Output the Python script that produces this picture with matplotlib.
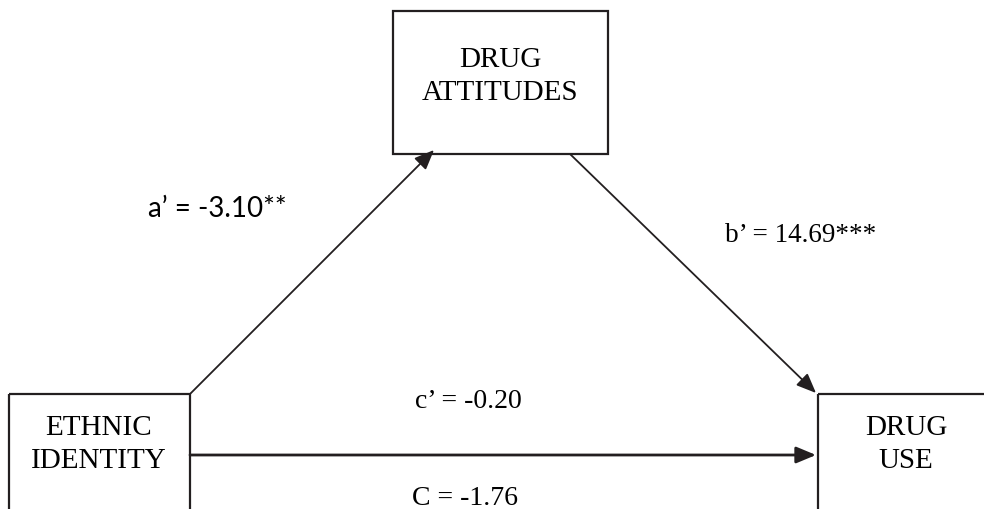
import matplotlib
matplotlib.use("Agg")
import matplotlib.pyplot as plt
from matplotlib.patches import Rectangle, FancyArrowPatch, ArrowStyle

# ---- data ----
node_labels = ["DRUG\nATTITUDES", "ETHNIC\nIDENTITY", "DRUG\nUSE"]
path_names = ["a\u2019", "b\u2019", "c\u2019", "C"]
path_values = ["-3.10", "14.69", "-0.20", "-1.76"]
path_stars = ["**", "***", "", ""]

W, H = 984, 510
fig = plt.figure(figsize=(W / 100, H / 100), dpi=100)
ax = fig.add_axes([0, 0, 1, 1])
ax.set_xlim(0, W)
ax.set_ylim(H, 0)
ax.axis("off")

LC = "#231f20"
SERIF = ["Liberation Serif", "DejaVu Serif"]
SANS = ["Lato", "DejaVu Sans"]

# boxes (x0, y0, x1, y1) in pixel coords
boxes = [(393, 12, 608, 155), (9, 395, 190, 560), (818, 395, 1100, 560)]
for (x0, y0, x1, y1) in boxes:
    ax.add_patch(Rectangle((x0, y0), x1 - x0, y1 - y0, fill=False,
                           edgecolor=LC, linewidth=1.6))

# node labels: (center x, first baseline y)
label_pos = [(500, 67), (99, 435), (906, 435)]
for lab, (cx, by) in zip(node_labels, label_pos):
    for i, line in enumerate(lab.split("\n")):
        ax.text(cx, by + i * 33, line, ha="center", va="baseline",
                fontsize=21, family=SERIF, color="black")

# arrows
style = ArrowStyle("-|>", head_length=12, head_width=5)
arrows = [((190, 395), (434, 151), 1.3),
          ((570, 155), (816, 394), 1.3),
          ((190, 456), (816, 456), 2.0)]
for (p0, p1, lw) in arrows:
    ax.add_patch(FancyArrowPatch(p0, p1, arrowstyle=style, mutation_scale=1,
                                 color=LC, linewidth=lw, shrinkA=0, shrinkB=0))

# path coefficient labels
txt = [f"{n} = {v}{s}" for n, v, s in zip(path_names, path_values, path_stars)]
ax.text(148, 217, txt[0], ha="left", va="baseline", fontsize=20,
        family=SANS, color="black")
ax.text(725, 242, txt[1], ha="left", va="baseline", fontsize=19.5,
        family=SERIF, color="black")
ax.text(468, 408, txt[2], ha="center", va="baseline", fontsize=20,
        family=SERIF, color="black")
ax.text(465, 505, txt[3], ha="center", va="baseline", fontsize=20,
        family=SERIF, color="black")

fig.savefig("out.png", dpi=100)
